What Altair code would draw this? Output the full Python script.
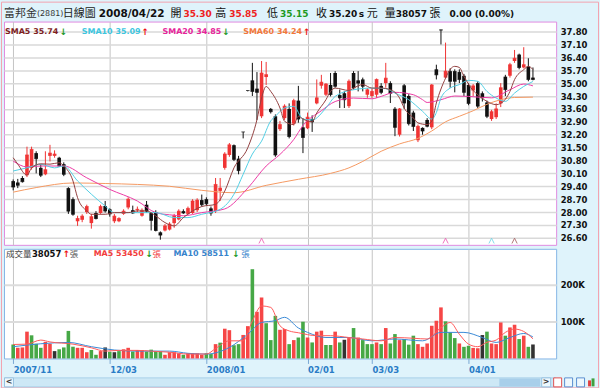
import altair as alt
import pandas as pd

# ---------------- values ----------------
days = list(range(114))
opens = [
    29.68, 29.60, 29.85, 30.00, 30.40, 31.20, 30.40, 30.05, 31.05, 31.05,
    30.95, 30.60, 29.30, 28.70, 27.50, 27.58, 28.00, 27.40, 27.95, 27.95,
    28.33, 28.15, 27.50, 27.50, 27.90, 28.25, 28.10, 28.10, 27.80, 28.40,
    27.95, 28.00, 26.90, 27.00, 27.05, 27.40, 27.60, 28.05, 27.90, 27.95,
    28.10, 28.65, 28.70, 28.20, 28.05, 29.15, 30.40, 31.10, 31.63, 30.90,
    32.35, 34.60, 35.15, 34.70, 33.20, 35.33, 33.60, 33.20, 32.50, 33.10,
    33.60, 32.80, 34.05, 32.60, 32.55, 33.05, 33.90, 34.86, 34.37, 34.90,
    35.55, 34.35, 34.45, 33.75, 35.55, 35.15, 35.20, 34.37, 34.30, 34.37,
    34.85, 35.00, 35.00, 33.61, 32.20, 34.88, 34.30, 33.40, 31.90, 32.57,
    33.00, 32.60, 35.75, 37.90, 35.30, 35.65, 35.65, 35.60, 35.40, 34.90,
    34.60, 35.00, 34.45, 33.95, 33.05, 33.15, 33.90, 35.35, 35.40, 36.20,
    36.55, 35.85, 35.90, 35.30]
highs = [
    29.77, 29.80, 29.95, 31.55, 31.55, 31.30, 30.60, 31.30, 31.65, 31.35,
    31.00, 30.70, 29.35, 28.80, 27.80, 27.88, 28.40, 27.90, 28.05, 28.40,
    28.60, 28.20, 27.90, 27.72, 28.15, 28.80, 28.35, 28.30, 28.20, 28.60,
    28.00, 28.10, 26.95, 27.35, 27.45, 27.90, 28.15, 28.15, 28.30, 28.70,
    28.75, 28.95, 28.80, 28.30, 29.85, 29.85, 31.25, 31.75, 31.67, 31.05,
    32.35, 34.60, 36.10, 35.60, 36.20, 36.15, 33.65, 33.30, 32.95, 33.85,
    33.90, 34.15, 34.85, 33.10, 33.40, 33.25, 35.20, 35.45, 35.00, 35.55,
    35.65, 34.65, 34.55, 35.20, 35.65, 35.65, 35.30, 34.73, 34.70, 35.25,
    35.00, 36.10, 35.10, 33.70, 33.65, 34.95, 34.40, 33.50, 32.75, 32.60,
    33.10, 34.95, 36.00, 37.90, 37.20, 35.80, 35.75, 35.75, 35.50, 35.00,
    34.95, 35.10, 34.55, 34.05, 33.55, 33.90, 35.00, 35.45, 36.10, 36.80,
    36.60, 36.95, 36.35, 35.85]
lows = [
    29.18, 29.30, 29.60, 29.90, 30.30, 30.10, 29.90, 30.00, 30.75, 30.95,
    30.45, 29.95, 27.90, 27.80, 27.25, 27.45, 27.90, 27.10, 27.60, 27.90,
    27.97, 27.75, 27.40, 27.45, 27.85, 28.15, 27.90, 28.00, 27.75, 27.95,
    27.00, 26.95, 26.50, 26.95, 27.00, 27.15, 27.55, 27.90, 27.85, 27.90,
    28.00, 28.30, 28.35, 27.80, 27.95, 28.60, 30.30, 31.00, 30.77, 30.05,
    32.00, 34.55, 34.30, 33.00, 33.10, 34.90, 33.35, 31.00, 32.40, 33.00,
    32.00, 32.70, 32.85, 31.20, 32.50, 32.35, 33.85, 34.70, 34.30, 34.28,
    34.75, 33.65, 33.65, 33.65, 34.65, 34.55, 34.55, 34.20, 34.20, 34.20,
    34.40, 34.75, 33.92, 32.12, 32.10, 33.60, 32.70, 32.40, 31.80, 32.20,
    32.60, 32.50, 35.20, 37.10, 35.25, 34.75, 34.50, 35.00, 34.30, 33.80,
    34.30, 33.65, 34.00, 33.10, 32.95, 33.05, 33.70, 34.30, 35.30, 36.10,
    35.75, 35.80, 35.10, 35.15]
closes = [
    29.36, 29.45, 29.65, 31.10, 31.40, 30.90, 30.00, 30.30, 31.20, 31.15,
    30.50, 30.05, 28.05, 27.88, 27.65, 27.78, 28.30, 27.75, 27.65, 28.30,
    28.06, 27.90, 27.78, 27.65, 28.05, 28.70, 27.95, 28.15, 28.10, 28.05,
    27.55, 27.00, 26.75, 27.25, 27.35, 27.80, 28.05, 27.95, 28.20, 28.60,
    28.65, 28.40, 28.45, 27.95, 29.50, 29.30, 31.15, 31.65, 30.86, 30.25,
    32.35, 34.60, 34.55, 34.50, 35.55, 35.46, 33.45, 31.10, 32.75, 33.75,
    32.10, 34.05, 33.05, 32.05, 33.15, 32.90, 34.20, 35.05, 34.95, 34.38,
    34.83, 34.20, 34.10, 35.10, 34.74, 35.00, 34.83, 34.64, 34.55, 35.20,
    34.50, 35.27, 34.45, 32.60, 33.60, 33.92, 32.80, 32.65, 32.65, 32.40,
    32.66, 34.90, 35.45, 37.88, 35.65, 35.10, 35.10, 35.20, 34.50, 33.90,
    34.85, 33.75, 34.20, 33.20, 33.45, 33.60, 34.75, 34.65, 36.00, 36.35,
    35.85, 36.00, 35.20, 35.20]
volume_k = [
    38, 29, 30, 73, 63, 40, 29, 45, 40, 20,
    25, 30, 75, 32, 29, 29, 17, 23, 10, 20,
    30, 18, 17, 20, 25, 29, 19, 23, 23, 19,
    24, 20, 20, 10, 17, 17, 14, 10, 14, 14,
    14, 10, 14, 12, 39, 43, 81, 77, 36, 39,
    64, 88, 243, 127, 166, 96, 50, 116, 78, 80,
    39, 50, 57, 100, 57, 43.6, 73, 75.6, 36.7, 36.7,
    73, 43.6, 50.9, 55.5, 82.8, 57, 50, 39, 39, 43.6,
    39, 82.8, 40.8, 66.4, 50, 52.8, 37.6, 62, 39, 31.7,
    40.8, 89, 102.7, 139, 101, 71, 55.5, 40.8, 31.7, 34.4,
    28.7, 27.8, 63.7, 73, 40.8, 39, 98, 62, 84.5, 91.8,
    52.8, 62, 31.7, 38.057]
volume_color = [
    'g', 'r', 'r', 'r', 'g', 'g', 'g', 'r', 'r', 'k',
    'g', 'g', 'g', 'g', 'r', 'r', 'r', 'g', 'g', 'r',
    'k', 'g', 'k', 'g', 'r', 'r', 'g', 'r', 'r', 'g',
    'g', 'g', 'g', 'r', 'r', 'r', 'r', 'g', 'r', 'r',
    'r', 'r', 'g', 'g', 'r', 'g', 'r', 'r', 'g', 'g',
    'r', 'r', 'g', 'r', 'r', 'g', 'g', 'g', 'r', 'r',
    'g', 'r', 'g', 'g', 'r', 'g', 'r', 'r', 'g', 'g',
    'r', 'g', 'k', 'r', 'g', 'r', 'g', 'g', 'g', 'r',
    'g', 'r', 'g', 'g', 'r', 'g', 'g', 'g', 'r', 'r',
    'r', 'r', 'r', 'r', 'g', 'g', 'g', 'r', 'g', 'g',
    'r', 'r', 'k', 'g', 'r', 'r', 'r', 'g', 'r', 'r',
    'g', 'r', 'g', 'k']

sma5_day = [0, 1, 3, 4, 6, 8, 10, 11, 13, 14, 16, 17, 20, 22, 25, 27, 29, 31, 33, 35,
            37, 39, 41, 44, 46, 48, 51, 53, 54, 55, 56, 58, 59, 61, 62, 63, 65, 66, 68, 69,
            70, 73, 74, 76, 78, 80, 82, 84, 85, 87, 88, 90, 91, 92, 94, 95, 96, 97, 98, 100,
            101, 103, 105, 106, 108, 109, 111, 112, 113]
sma5_val = [30.95, 30.60, 30.00, 30.40, 30.62, 30.60, 30.68, 30.50, 29.69, 28.78,
            28.06, 27.88, 27.88, 27.97, 27.97, 28.06, 28.06, 27.79, 27.43, 27.25,
            27.70, 28.06, 28.30, 28.42, 29.14, 30.40, 31.49, 33.02, 34.19, 34.82,
            34.55, 33.65, 32.93, 32.75, 33.20, 33.05, 32.90, 33.38, 34.10, 34.55,
            34.73, 34.60, 34.73, 34.92, 34.73, 34.73, 34.64, 34.19, 33.65, 33.11,
            32.84, 32.75, 32.93, 33.92, 35.27, 35.75, 35.91, 35.85, 35.37, 34.60,
            34.37, 34.01, 33.83, 33.90, 34.55, 35.19, 35.73, 35.91, 35.74]
sma10_day = [0, 3, 6, 9, 11, 14, 17, 20, 22, 27, 31, 35, 38, 41, 45, 48, 50, 52, 54, 56,
             57, 59, 61, 63, 65, 68, 70, 74, 78, 81, 83, 86, 89, 91, 92, 93, 95, 97, 99, 101,
             103, 105, 107, 109, 111, 113]
sma10_val = [30.23, 30.40, 30.59, 30.40, 30.50, 29.69, 28.97, 28.33, 27.97, 27.97,
             27.97, 27.70, 27.70, 27.88, 28.15, 28.97, 30.05, 31.15, 31.85, 32.95,
             33.20, 33.65, 33.74, 33.05, 33.00, 33.65, 34.28, 34.64, 34.73, 34.70,
             34.46, 34.10, 33.47, 33.05, 33.40, 34.19, 34.73, 34.92, 35.15, 35.10,
             34.55, 34.19, 34.01, 34.46, 34.82, 35.09]
sma20_day = [0, 3, 6, 11, 16, 21, 27, 31, 34, 37, 41, 46, 51, 55, 58, 61, 63, 67, 70, 74,
             78, 80, 83, 87, 89, 90, 93, 96, 99, 104, 108, 111, 113]
sma20_val = [30.77, 30.45, 30.50, 30.50, 29.86, 29.23, 28.60, 27.97, 27.85, 27.80,
             27.97, 28.17, 29.30, 30.50, 31.13, 31.94, 32.70, 33.50, 34.00, 34.19,
             34.15, 34.28, 34.50, 34.37, 34.10, 33.95, 34.10, 34.30, 34.28, 34.20,
             34.64, 34.95, 34.85]
sma60_day = [0, 5, 13, 20, 27, 34, 41, 48, 55, 62, 69, 73, 76, 80, 84, 88, 91, 94, 97, 100,
             103, 106, 109, 113]
sma60_val = [29.08, 29.33, 29.58, 29.55, 29.50, 29.40, 29.18, 29.05, 29.45, 29.78,
             30.10, 30.40, 30.75, 31.30, 31.70, 32.00, 32.40, 32.90, 33.20, 33.50,
             33.85, 34.10, 34.22, 34.24]
vma5_day = [0, 3, 6, 8, 13, 17, 20, 23, 27, 30, 34, 38, 42, 44, 47, 50, 52, 54, 56, 58,
            60, 62, 66, 69, 73, 76, 80, 83, 87, 90, 93, 95, 97, 99, 101, 103, 105, 107, 109, 111,
            113]
vma5_val = [38, 39, 50, 45, 39, 29, 20, 22, 22, 20, 17, 12, 12, 27, 48, 48, 102, 143, 139, 89,
            75, 70, 62, 62, 57, 53, 48, 57, 55, 53, 84, 98, 66, 39, 32, 44, 50, 71, 80, 73.5,
            53.45]
vma10_day = [0, 6, 12, 17, 22, 27, 34, 38, 42, 47, 51, 54, 57, 59, 62, 64, 68, 73, 78, 83,
             89, 93, 98, 102, 105, 108, 111, 113]
vma10_val = [32, 40, 43.6, 32, 23, 20, 20, 14, 12, 30, 66, 98, 103, 112, 83, 71, 57, 57, 48, 53,
             48, 71, 71, 57, 43.6, 57, 68, 58.5]

date_tick_days = [0, 21, 42, 64, 78, 99]
date_tick_labels = ["2007/11", "12/03", "2008/01", "02/01", "03/03", "04/01"]
price_tick_values = [26.60, 27.30, 28.00, 28.70, 29.40, 30.10, 30.80, 31.50, 32.20,
                     32.90, 33.60, 34.30, 35.00, 35.70, 36.40, 37.10, 37.80]
volume_tick_values = [100, 200]
cross_days = [54, 94, 104, 109]
cross_series = ["SMA20", "SMA20", "SMA10", "SMA5"]

# ---------------- tables ----------------
candles = pd.DataFrame({"day": days, "open": opens, "high": highs, "low": lows, "close": closes})
candles["dir"] = ["up" if c > o else "down" for o, c in zip(opens, closes)]
vol_df = pd.DataFrame({"day": days, "vol": volume_k, "vc": volume_color})
def series(d, v):
    return pd.DataFrame({"day": d, "v": v})

# ---------------- style ----------------
FONT = "DejaVu Sans"
CJK = "Noto Sans CJK TC"
BG = "#dff3fb"
RED = "#f03434"
BLK = "#111111"
GRN = "#23992a"
C_SMA5, C_SMA10, C_SMA20, C_SMA60 = "#934040", "#52cfe4", "#ec3ca6", "#f59a62"
PW, PH, VH = 554, 224, 110

xscale = alt.Scale(domain=[-0.915, 116.96], nice=False, zero=False)
px_axis = alt.Axis(values=date_tick_days, grid=True, gridColor="#c4c4c4", gridWidth=1,
                   labels=False, ticks=False, domain=False, title=None)
PX = alt.X("day:Q", scale=xscale, axis=px_axis)
pscale = alt.Scale(domain=[26.221, 38.341], nice=False, zero=False)
py_axis = alt.Axis(values=price_tick_values, format=".2f", orient="right", grid=True,
                   gridColor="#d9d9d9", gridWidth=1.5, domain=False, ticks=False,
                   labelFont=FONT, labelFontSize=8.5, labelFontWeight="bold",
                   labelColor="#111111", labelPadding=4, title=None)
def PY(f):
    return alt.Y(f"{f}:Q", scale=pscale, axis=py_axis)

def txt(s, x, y, color, size=9, weight="normal", font=FONT, align="left"):
    return alt.Chart(pd.DataFrame({"t": [s]})).mark_text(
        align=align, baseline="middle", font=font, fontSize=size, fontWeight=weight,
        color=color).encode(text="t:N", x=alt.value(x), y=alt.value(y))

def box(x, x2, y, y2, fill, stroke="#ffffff", sw=0, fo=1.0, so=1.0):
    return alt.Chart(pd.DataFrame({"a": [0]})).mark_rect(
        fill=fill, fillOpacity=fo, stroke=stroke, strokeWidth=sw, strokeOpacity=so).encode(
        x=alt.value(x), x2=alt.value(x2), y=alt.value(y), y2=alt.value(y2))

cscale = alt.Scale(domain=["up", "down"], range=[RED, BLK])

frame = box(-3, 597, -20, 368, "#ffffff", fo=0.0, so=0.0)
outer = box(-2.5, 596.5, -19.5, 367.5, "#ffffff", stroke="#f2a3b0", sw=1, fo=0.0)

HY = -8
header = [
    txt("富邦金", 0, HY, "#333333", 11, font=CJK),
    txt("(2881)", 33, HY, "#333333", 8),
    txt("日線圖", 59, HY, "#222222", 11, font=CJK),
    txt("2008/04/22", 95, HY, "#111111", 10.5, "bold"),
    txt("開", 167, HY, "#111111", 11, font=CJK),
    txt("35.30", 180, HY, "#ee2222", 9, "bold"),
    txt("高", 212, HY, "#111111", 11, font=CJK),
    txt("35.85", 226, HY, "#ee2222", 9, "bold"),
    txt("低", 264, HY, "#111111", 11, font=CJK),
    txt("35.15", 277, HY, "#1f9a1f", 9, "bold"),
    txt("收", 313, HY, "#111111", 11, font=CJK),
    txt("35.20", 326, HY, "#111111", 9, "bold"),
    txt("s", 356, HY, "#111111", 9, "bold"),
    txt("元", 364, HY, "#111111", 11, font=CJK),
    txt("量", 382, HY, "#111111", 11, font=CJK),
    txt("38057", 393, HY, "#111111", 9, "bold"),
    txt("張", 427, HY, "#111111", 11, font=CJK),
    txt("0.00 (0.00%)", 447, HY, "#111111", 9, "bold"),
]
LY = 10.5
price_legend = [
    txt("SMA5 35.74", 1, LY, "#7e1e1e", 8, "bold"),
    txt("↓", 56, LY, GRN, 9, "bold"),
    txt("SMA10 35.09", 78, LY, "#3cc6df", 8, "bold"),
    txt("↑", 138, LY, "#ee1111", 9, "bold"),
    txt("SMA20 34.85", 159, LY, "#e6249a", 8, "bold"),
    txt("↓", 219, LY, GRN, 9, "bold"),
    txt("SMA60 34.24", 240, LY, "#f2773a", 8, "bold"),
    txt("↑", 300, LY, "#ee1111", 9, "bold"),
]

wick = alt.Chart(candles).mark_rule(strokeWidth=1).encode(
    x=PX, y=PY("low"), y2="high:Q", color=alt.Color("dir:N", scale=cscale, legend=None))
body = alt.Chart(candles).mark_bar(size=3.6, orient="vertical").encode(
    x=PX, y=PY("open"), y2="close:Q", color=alt.Color("dir:N", scale=cscale, legend=None))
ctick = alt.Chart(candles).mark_tick(orient="horizontal", size=3.6, thickness=1).encode(
    x=PX, y=PY("close"), color=alt.Color("dir:N", scale=cscale, legend=None))

def sma(d, v, col):
    return alt.Chart(series(d, v)).mark_line(color=col, strokeWidth=1, interpolate="monotone").encode(
        x=PX, y=PY("v"))

cross = alt.Chart(pd.DataFrame({"day": cross_days, "s": cross_series})).mark_point(
    shape="M-1,1L0,-1L1,1", filled=False, size=28, strokeWidth=1).encode(
    x=PX, y=alt.value(220),
    stroke=alt.Stroke("s:N", scale=alt.Scale(domain=["SMA5", "SMA10", "SMA20"],
                                             range=[C_SMA5, C_SMA10, C_SMA20]), legend=None))

price = alt.layer(
    frame, outer, *header, wick, body, ctick,
    sma(sma60_day, sma60_val, C_SMA60), sma(sma20_day, sma20_val, C_SMA20),
    sma(sma10_day, sma10_val, C_SMA10), sma(sma5_day, sma5_val, C_SMA5),
    cross, *price_legend
).resolve_scale(color="independent", stroke="independent").properties(
    width=PW, height=PH,
    view=alt.ViewBackground(fill="#ffffff", stroke="#e08be0", strokeWidth=1))

# ---------------- volume panel ----------------
label_expr = "''"
for d, l in zip(reversed(date_tick_days), reversed(date_tick_labels)):
    label_expr = f"datum.value === {d} ? '{l}' : ({label_expr})"
vx_axis = alt.Axis(values=date_tick_days, grid=True, gridColor="#c4c4c4", gridWidth=1,
                   labels=True, labelExpr=label_expr, labelAlign="left", labelFlush=False,
                   labelFont=FONT, labelFontSize=8.5, labelFontWeight="bold",
                   labelColor="#2a7cc6", labelPadding=2, ticks=True, tickSize=5,
                   tickColor="#7aa8d4", domain=False, title=None)
VX = alt.X("day:Q", scale=xscale, axis=vx_axis)
vscale = alt.Scale(domain=[0, 298.5], nice=False)
vy_axis = alt.Axis(values=volume_tick_values, labelExpr="datum.value + 'K'", orient="right",
                   grid=True, gridColor="#dcdcdc", gridWidth=2, domain=False, ticks=False,
                   labelFont=FONT, labelFontSize=8.5, labelFontWeight="bold",
                   labelColor="#111111", labelPadding=4, title=None)
def VY(f):
    return alt.Y(f"{f}:Q", scale=vscale, axis=vy_axis)

vbars = alt.Chart(vol_df).mark_bar(size=3.6, orient="vertical").encode(
    x=VX, y=VY("vol"),
    color=alt.Color("vc:N", scale=alt.Scale(domain=["r", "g", "k"],
                                            range=["#f64646", "#46a846", "#333333"]), legend=None))
def vma(d, v, col):
    return alt.Chart(series(d, v)).mark_line(color=col, strokeWidth=1, interpolate="monotone").encode(
        x=VX, y=VY("v"))

VLY = 5.5
vol_legend = [
    txt("成交量", 2, VLY, "#444444", 8.5, font=CJK),
    txt("38057", 28, VLY, "#111111", 8.5, "bold"),
    txt("↑", 59, VLY, "#ee1111", 9, "bold"),
    txt("張", 66, VLY, "#555555", 8.5, font=CJK),
    txt("MA5 53450", 90, VLY, "#f23c3c", 8, "bold"),
    txt("↓", 142, VLY, GRN, 9, "bold"),
    txt("張", 149, VLY, "#f23c3c", 8.5, font=CJK),
    txt("MA10 58511", 170, VLY, "#3683cc", 8, "bold"),
    txt("↓", 229, VLY, GRN, 9, "bold"),
    txt("張", 238, VLY, "#3683cc", 8.5, font=CJK),
]
scroll = [
    box(0.5, 553.5, 129.5, 138.5, "#cde8f6", stroke="#a8cfe8", sw=1),
    box(0.5, 9.5, 129.5, 138.5, "#eef8fd", stroke="#98c2e0", sw=1),
    txt("<", 5, 134, "#333333", 8, "bold", align="center"),
    box(497, 538, 130, 138, "#a8cfea"),
    box(539.5, 548.5, 129.5, 138.5, "#eef8fd", stroke="#98c2e0", sw=1),
    txt(">", 544, 134, "#333333", 8, "bold", align="center"),
    box(551.5, 559.5, 129.5, 138.5, "#ffffff", stroke="#e05050", sw=1),
    box(562.5, 570.5, 129.5, 138.5, "#eef8fd", stroke="#5a8fd0", sw=1),
    box(574.5, 582.5, 129.5, 138.5, "#eef8fd", stroke="#5a8fd0", sw=1),
    box(586, 589, 132, 138, "#e04040"),
    box(589.5, 592.5, 130, 138, "#40a040"),
]

volume = alt.layer(
    vbars, vma(vma10_day, vma10_val, "#3a8ad6"), vma(vma5_day, vma5_val, "#ff5a5a"),
    *vol_legend, *scroll
).properties(
    width=PW, height=VH,
    view=alt.ViewBackground(fill="#ffffff", stroke="#86b6e6", strokeWidth=1))

chart = alt.vconcat(price, volume, spacing=4, bounds="flush").properties(
    padding=0, background=BG)

chart.save("out.html", embed_options={"renderer": "svg", "actions": False})
